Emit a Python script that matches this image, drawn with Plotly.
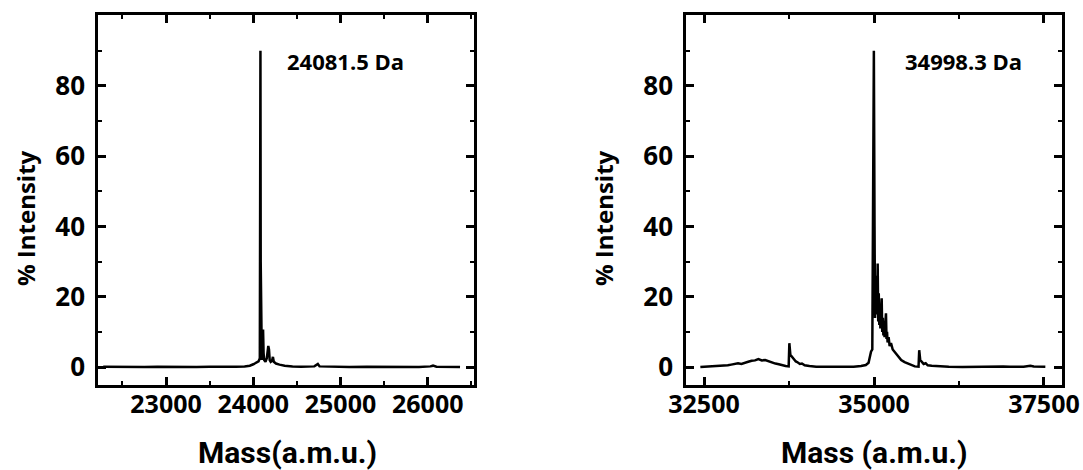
import plotly.graph_objects as go

# Left spectrum (mass in Da, % intensity)
mass_a = [22280, 22450, 22600, 22750, 22900, 23050, 23200, 23350, 23500, 23650,
          23800, 23900, 23960, 24000, 24030, 24060, 24075, 24079, 24082, 24085,
          24090, 24098, 24105, 24112, 24118, 24125, 24140, 24155, 24172, 24180,
          24188, 24200, 24215, 24225, 24235, 24260, 24300, 24360, 24450, 24550,
          24700, 24740, 24760, 24900, 25100, 25300, 25500, 25700, 25900, 26030,
          26060, 26100, 26370]
int_a = [0.1, 0.0, 0.1, 0.0, 0.1, 0.0, 0.1, 0.0, 0.1, 0.0,
         0.1, 0.2, 0.4, 0.8, 1.2, 1.6, 2.5, 45, 90, 30,
         3, 2, 6, 10.7, 4, 2, 1.5, 2.5, 6, 5,
         2, 1.5, 1.8, 2.9, 1.5, 1.0, 0.7, 0.4, 0.2, 0.1,
         0.2, 0.9, 0.2, 0.1, 0.0, 0.1, 0.0, 0.1, 0.0, 0.2,
         0.4, 0.1, 0.0]

# Right spectrum
mass_b = [32446, 32550, 32650, 32750, 32800, 32850, 32900, 32950, 33000, 33050,
          33100, 33150, 33200, 33250, 33300, 33350, 33400, 33450, 33500, 33550,
          33600, 33650, 33700, 33745, 33755, 33770, 33790, 33820, 33850, 33880,
          33910, 33940, 33980, 34050, 34150, 34300, 34500, 34700, 34810, 34880,
          34920, 34940, 34956, 34975, 34985, 34998, 35008, 35015, 35022, 35030,
          35037, 35045, 35054, 35062, 35070, 35078, 35086, 35094, 35102, 35113,
          35121, 35130, 35138, 35146, 35155, 35163, 35170, 35176, 35184, 35192,
          35200, 35215, 35230, 35250, 35275, 35300, 35350, 35400, 35450, 35500,
          35544, 35600, 35655, 35665, 35680, 35700, 35730, 35760, 35790, 35850,
          35950, 36100, 36300, 36500, 36700, 36900, 37000, 37200, 37300, 37350,
          37520]
int_b = [0.0, 0.1, 0.1, 0.2, 0.3, 0.5, 0.7, 0.9, 1.1, 0.9,
         1.3, 1.5, 1.8, 1.9, 2.3, 1.9, 2.0, 1.6, 1.4, 1.0,
         0.8, 0.5, 0.3, 0.2, 6.8, 3.5, 3.0, 2.4, 1.6, 1.3,
         0.9, 1.0, 0.5, 0.3, 0.1, 0.1, 0.0, 0.1, 0.3, 0.6,
         1.2, 3.5, 4.4, 5.0, 40, 90, 40, 14, 24, 16,
         26, 15, 29.5, 13, 21, 12, 17, 11, 15, 19.6,
         10, 14, 9, 12, 8.5, 11, 13, 15.3, 8, 10,
         7, 8.5, 6, 6.8, 5, 4.4, 3.0, 2.0, 1.4, 1.0,
         0.6, 0.2, 0.1, 4.8, 2.0, 1.6, 0.9, 1.1, 0.5, 0.4,
         0.2, 0.1, 0.0, 0.1, 0.0, 0.2, 0.1, 0.1, 0.4, 0.2,
         0.1]

labels = ["24081.5 Da", "34998.3 Da"]
xtitles = ["Mass(a.m.u.)", "Mass (a.m.u.)"]
ytitle = "% Intensity"
yticks = [0, 20, 40, 60, 80]
xticks_a = [23000, 24000, 25000, 26000]
xticks_b = [32500, 35000, 37500]

W, H = 1083, 470
FONT = "Open Sans, Liberation Sans, sans-serif"
TFONT = "Roboto, Open Sans, sans-serif"

fig = go.Figure()
fig.add_trace(go.Scatter(x=mass_a, y=int_a, mode="lines", line=dict(color="black", width=2.5),
                         xaxis="x", yaxis="y", showlegend=False))
fig.add_trace(go.Scatter(x=mass_b, y=int_b, mode="lines", line=dict(color="black", width=2.5),
                         xaxis="x2", yaxis="y2", showlegend=False))

L1, R1 = 98, 474
L2, R2 = 686, 1062
T, B = 15, 385

def xax(dom, rng, ticks, minor_dtick, minor_start):
    return dict(domain=[dom[0] / W, dom[1] / W], range=rng, tickvals=ticks,
                ticktext=[str(t) for t in ticks], automargin=False,
                showline=True, linecolor="black", linewidth=2.5, mirror="ticks",
                ticks="inside", ticklen=8, tickwidth=2.5, tickcolor="black",
                minor=dict(ticks="inside", ticklen=4, tickwidth=2, tickcolor="black",
                           tick0=minor_start, dtick=minor_dtick),
                showgrid=False, zeroline=False,
                tickfont=dict(family=FONT, size=25, color="black", weight="bold"),
                ticklabelstandoff=-5)

def yax(anchor):
    return dict(domain=[1 - B / H, 1 - T / H], range=[-5.1, 100.2], tickvals=yticks,
                showline=True, linecolor="black", linewidth=2.5, mirror="ticks",
                ticks="inside", ticklen=8, tickwidth=2.5, tickcolor="black",
                minor=dict(ticks="inside", ticklen=4, tickwidth=2, tickcolor="black",
                           tick0=10, dtick=20), automargin=False,
                showgrid=False, zeroline=False, anchor=anchor,
                tickfont=dict(family=FONT, size=26, color="black", weight="bold"),
                ticklabelstandoff=5)

fig.update_layout(
    width=W, height=H, margin=dict(l=0, r=0, t=0, b=0, autoexpand=False),
    paper_bgcolor="white", plot_bgcolor="white",
    xaxis=dict(**xax((L1, R1), [22220, 26530], xticks_a, 1000, 22500), anchor="y"),
    yaxis=yax("x"),
    xaxis2=dict(**xax((L2, R2), [32235, 37765], xticks_b, 2500, 33750), anchor="y2"),
    yaxis2=yax("x2"),
)

ann = []
ann.append(dict(x=345 / W, y=1 - 61 / H, text=labels[0],
                font=dict(family=FONT, size=22, color="black", weight="bold")))
ann.append(dict(x=963 / W, y=1 - 61 / H, text=labels[1],
                font=dict(family=FONT, size=22, color="black", weight="bold")))
for cx, t in [(287, xtitles[0]), (875, xtitles[1])]:
    ann.append(dict(x=cx / W, y=1 - 452 / H, text=t,
                    font=dict(family=TFONT, size=30, color="black", weight="bold")))
for cx in [25, 603]:
    ann.append(dict(x=cx / W, y=1 - 218 / H, text=ytitle, textangle=-90,
                    font=dict(family=FONT, size=24, color="black", weight="bold")))
for a in ann:
    a.update(xref="paper", yref="paper", xanchor="center", yanchor="middle", showarrow=False)
fig.update_layout(annotations=ann)

fig.write_html("out.html")
